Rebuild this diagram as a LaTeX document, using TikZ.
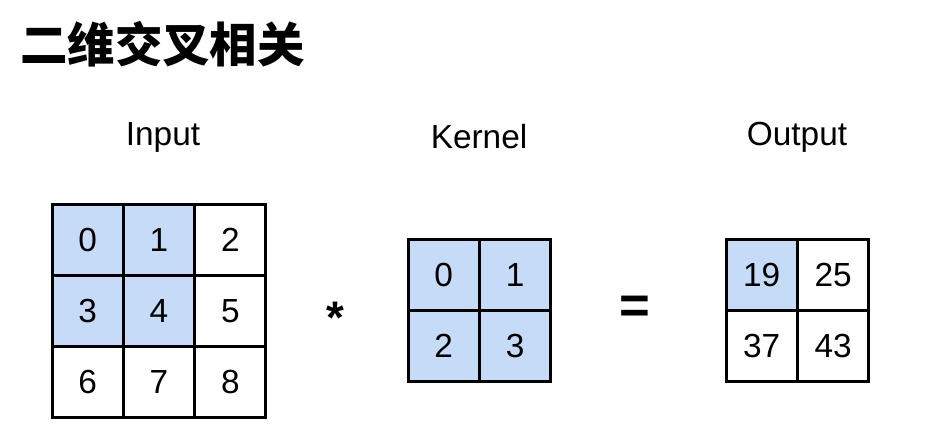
\documentclass[tikz,border=0pt]{standalone}
\usepackage{fontspec}
\setmainfont{Liberation Sans}
\newfontfamily\cjk{Noto Sans CJK SC}
\definecolor{cellblue}{HTML}{C6DBF8}
\tikzset{
  cell/.style={draw,line width=1.6pt,minimum size=1.42cm,inner sep=0pt,font=\fontsize{19}{22}\selectfont},
  hl/.style={fill=cellblue},
  head/.style={font=\fontsize{19}{22}\selectfont}
}
\begin{document}
\begin{tikzpicture}[x=0.02cm,y=-0.02cm]
  \useasboundingbox (0,0) rectangle (928,433);
  \node[anchor=west,font=\cjk\bfseries\fontsize{27}{30}\selectfont] (title) at (14,44) {二维交叉相关};

  % input
  \node[head] (inlabel) at (163,137) {Input};
  \foreach[count=\i from 0] \v in {0,1,2,3,4,5,6,7,8} {
    \pgfmathtruncatemacro\r{int(\i/3)}
    \pgfmathtruncatemacro\c{mod(\i,3)}
    \ifnum\r<2 \ifnum\c<2 \def\st{hl}\else\def\st{}\fi\else\def\st{}\fi
    \node[cell,\st] (in\i) at (87.7+71.3*\c,239.7+71.3*\r) {\v};
  }

  \node[font=\bfseries\fontsize{26}{28}\selectfont] (star) at (335,318) {*};

  % kernel
  \node[head] (kerlabel) at (479,137) {Kernel};
  \foreach[count=\i from 0] \v in {0,1,2,3} {
    \pgfmathtruncatemacro\r{int(\i/2)}
    \pgfmathtruncatemacro\c{mod(\i,2)}
    \node[cell,hl] (ker\i) at (443.7+71.5*\c,274.7+71.5*\r) {\v};
  }

  \node[font=\bfseries\fontsize{30}{32}\selectfont] (eq) at (635,310) {=};

  % output
  \node[head] (outlabel) at (797,137) {Output};
  \foreach[count=\i from 0] \v in {19,25,37,43} {
    \pgfmathtruncatemacro\r{int(\i/2)}
    \pgfmathtruncatemacro\c{mod(\i,2)}
    \ifnum\i=0 \def\st{hl}\else\def\st{}\fi
    \node[cell,\st] (out\i) at (761.7+71.5*\c,274.7+71.5*\r) {\v};
  }
\end{tikzpicture}
\end{document}
